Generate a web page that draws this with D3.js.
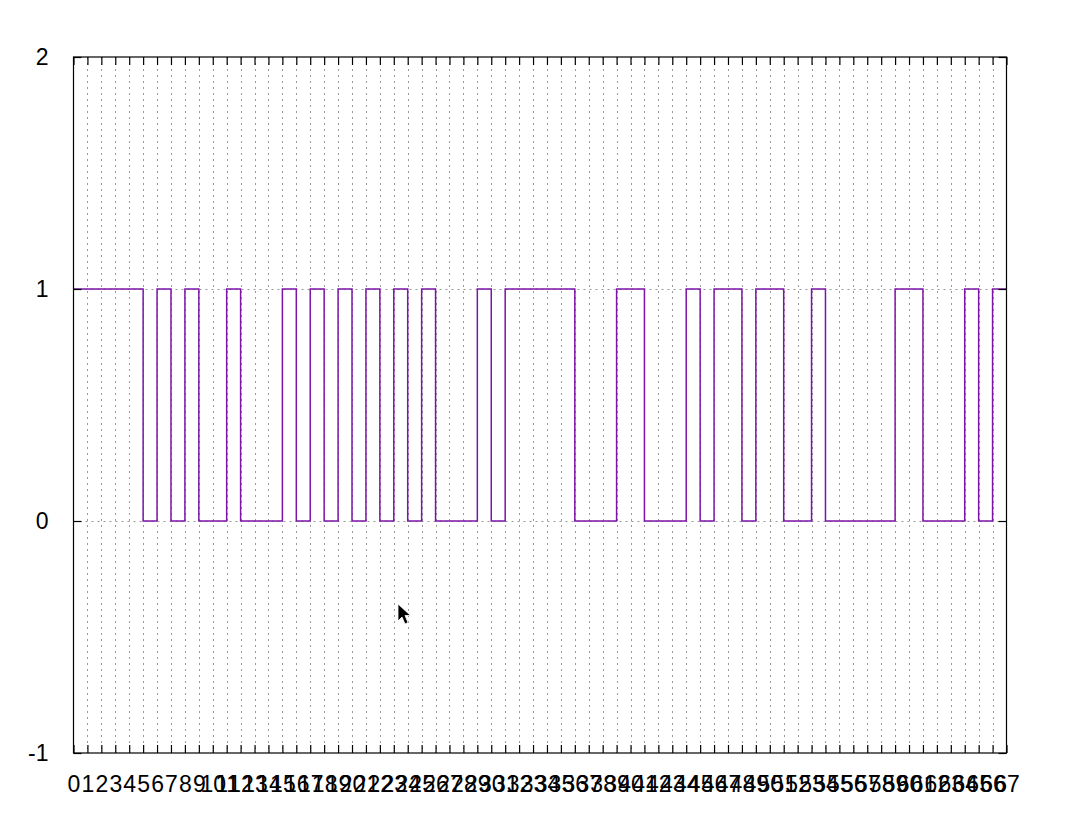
<!DOCTYPE html>
<html><head><meta charset="utf-8">
<script src="https://cdn.jsdelivr.net/npm/d3@7"></script>
<style>
html,body{margin:0;padding:0;background:#fff;}
svg{display:block;font-family:"Liberation Sans",Arial,sans-serif;}
</style></head>
<body>
<svg id="c" width="1073" height="817"></svg>
<script>
// data
const xTicks = d3.range(0, 68);          // 0..67
const yTicks = [-1, 0, 1, 2];
const bits = [1,1,1,1,1,0,1,0,1,0,0,1,0,0,0,1,0,1,0,1,0,1,0,1,0,1,0,0,0,1,0,
              1,1,1,1,1,0,0,0,1,1,0,0,0,1,0,1,1,0,1,1,0,0,1,0,0,0,0,0,1,1,0,0,0,1,0,1,1];

(function () {
const svg = d3.select("#c");
const L = 73.5, R = 1006.5, T = 57, B = 753;
const x = d3.scaleLinear().domain([0, 67]).range([L, R]);
const y = d3.scaleLinear().domain([-1, 2]).range([B, T]);

// grid
const g = svg.append("g");
g.selectAll("line.vg").data(xTicks.filter(d => d > 0 && d < 67)).join("line")
  .attr("x1", d => Math.round(x(d)) + 0.5).attr("x2", d => Math.round(x(d)) + 0.5)
  .attr("y1", T).attr("y2", B)
  .attr("stroke", "#9a9a9a").attr("stroke-width", 1).attr("stroke-dasharray", "2,4");
g.selectAll("line.hg").data(yTicks.filter(d => d > -1 && d < 2)).join("line")
  .attr("x1", L).attr("x2", R)
  .attr("y1", d => Math.round(y(d)) + 0.5).attr("y2", d => Math.round(y(d)) + 0.5)
  .attr("stroke", "#9a9a9a").attr("stroke-width", 1).attr("stroke-dasharray", "2,4");

// signal
const line = d3.line().x((d, i) => x(xTicks[i])).y(d => y(d)).curve(d3.curveStepAfter);
svg.append("path").datum(bits).attr("d", line)
  .attr("fill", "none").attr("stroke", "#7d14a8").attr("stroke-width", 1.5);

// axes (ticks inward, mirrored)
const fmt = d => String(d);
const axB = d3.axisBottom(x).tickValues(xTicks).tickSize(-8).tickFormat(fmt).tickPadding(23);
const axT = d3.axisTop(x).tickValues(xTicks).tickSize(-8).tickFormat("");
const axL = d3.axisLeft(y).tickValues(yTicks).tickSize(-8).tickFormat(fmt).tickPadding(25);
const axR = d3.axisRight(y).tickValues(yTicks).tickSize(-8).tickFormat("");

function style(sel) {
  sel.select(".domain").remove();
  sel.selectAll(".tick line").attr("stroke", "#000").attr("stroke-width", 1.2);
  sel.selectAll(".tick text").attr("fill", "#000").attr("font-size", 23)
     .attr("font-family", "'Liberation Sans', Arial, sans-serif");
}
svg.append("g").attr("transform", `translate(0,${B})`).call(axB).call(style);
svg.append("g").attr("transform", `translate(0,${T})`).call(axT).call(style);
svg.append("g").attr("transform", `translate(${L},0)`).call(axL).call(style);
svg.append("g").attr("transform", `translate(${R},0)`).call(axR).call(style);

// border
svg.append("rect").attr("x", L).attr("y", T).attr("width", R - L).attr("height", B - T)
  .attr("fill", "none").attr("stroke", "#000").attr("stroke-width", 1.2);

// mouse cursor seen in the screenshot
svg.append("path")
  .attr("d", "M398,604 l0,17 l4,-4 l3,7 l3,-1.5 l-3,-7 l5.5,0 z")
  .attr("fill", "#000").attr("stroke", "#fff").attr("stroke-width", 0.8);
})();
</script>
</body></html>
